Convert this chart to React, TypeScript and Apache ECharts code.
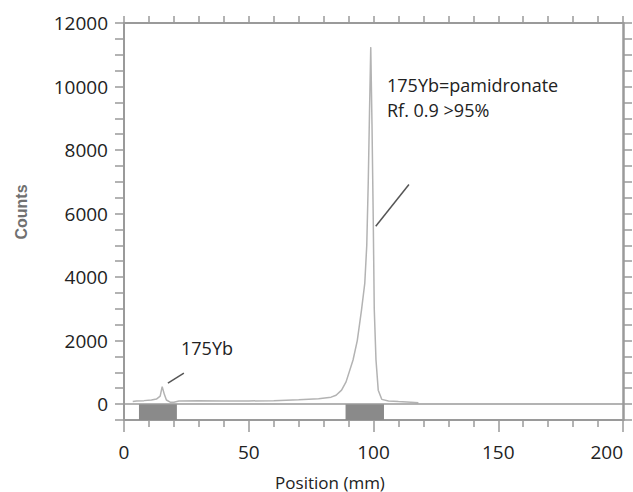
import React, { useEffect, useRef } from "react";
import * as echarts from "echarts";

// Chromatogram trace: [position (mm), counts]
const positions = [3.5, 5, 8, 11, 13, 14.5, 15.3, 16.2, 17, 18.5, 20, 22, 30, 40, 50, 60, 70, 78, 83, 85, 87.2, 89, 91.8, 93.5, 95.2, 96.5, 97.3, 97.9, 98.4, 98.9, 99.4, 99.9, 100.3, 101, 101.9, 103.3, 106, 110, 115, 118];
const counts = [80, 100, 110, 130, 160, 250, 550, 300, 130, 60, 60, 100, 110, 100, 100, 110, 140, 170, 220, 280, 440, 700, 1390, 2000, 2970, 3800, 5000, 7000, 9200, 11240, 8800, 5800, 3000, 1390, 440, 150, 100, 80, 60, 40];

// Shaded origin / front bands on the strip below zero [from, to] (mm)
const bands = [
  [6, 21.2],
  [88.8, 104.2],
];

// Leader lines [[x1, y1], [x2, y2]] in data units
const leaders = [
  [[100.9, 5600], [114.2, 6915]],
  [[17.6, 663], [24.0, 979]],
];

const xTicks = [0, 50, 100, 150, 200];
const yLabelStep = 2000;

export default function App() {
  const ref = useRef<HTMLDivElement>(null);
  useEffect(() => {
    if (!ref.current) return;
    const chart = echarts.init(ref.current, null, { renderer: "svg" });
    const axisColor = "#9a9a9a";
    const font = "'Open Sans', 'Noto Sans', sans-serif";
    const data = positions.map((p, i) => [p, counts[i]]);
    chart.setOption({
      animation: false,
      backgroundColor: "#ffffff",
      grid: { left: 124, right: 10, top: 23, bottom: 72, containLabel: false, outerBoundsMode: "none" },
      xAxis: [
        {
          type: "value",
          position: "bottom",
          min: xTicks[0],
          max: xTicks[xTicks.length - 1],
          interval: 50,
          axisLine: { show: true, onZero: false, lineStyle: { color: axisColor, width: 2 } },
          axisTick: { show: true, length: 12, lineStyle: { color: axisColor, width: 1.5 } },
          minorTick: { show: true, splitNumber: 5, length: 7, lineStyle: { color: axisColor, width: 1.5 } },
          splitLine: { show: false },
          axisLabel: { color: "#222", fontSize: 19, fontFamily: font, margin: 22, alignMaxLabel: "right" },
        },
        {
          type: "value",
          position: "top",
          min: 0,
          max: 200,
          interval: 10,
          axisLine: { show: true, onZero: false, lineStyle: { color: axisColor, width: 2 } },
          axisTick: { show: true, length: 7, lineStyle: { color: axisColor, width: 1.5 } },
          splitLine: { show: false },
          axisLabel: { show: false },
        },
      ],
      yAxis: [
        {
          type: "value",
          position: "left",
          min: -500,
          max: 12000,
          interval: 500,
          axisLine: { show: true, onZero: false, lineStyle: { color: axisColor, width: 2 } },
          axisTick: { show: true, length: 9, lineStyle: { color: axisColor, width: 1.5 } },
          splitLine: { show: false },
          axisLabel: {
            color: "#222",
            fontSize: 19,
            fontFamily: font,
            margin: 16,
            formatter: (v: number) => (v >= 0 && v % yLabelStep === 0 ? String(v) : ""),
          },
        },
        {
          type: "value",
          position: "right",
          min: -500,
          max: 12000,
          interval: 500,
          axisLine: { show: true, onZero: false, lineStyle: { color: axisColor, width: 2.5 } },
          axisTick: { show: true, length: 9, lineStyle: { color: axisColor, width: 1.5 } },
          splitLine: { show: false },
          axisLabel: { show: false },
        },
      ],
      series: [
        {
          type: "line",
          xAxisIndex: 0,
          yAxisIndex: 0,
          data,
          showSymbol: false,
          smooth: false,
          lineStyle: { color: "#b3b3b3", width: 1.5 },
          markLine: {
            silent: true,
            symbol: ["none", "none"],
            label: { show: false },
            data: [
              [
                { coord: [0, 0], lineStyle: { color: axisColor, width: 1.5, type: "solid" } },
                { coord: [200, 0] },
              ],
              ...leaders.map((l) => [
                { coord: l[0], lineStyle: { color: "#555", width: 1.5, type: "solid" } },
                { coord: l[1] },
              ]),
            ],
          },
          markArea: {
            silent: true,
            itemStyle: { color: "#8a8a8a" },
            data: bands.map((b) => [{ coord: [b[0], 0] }, { coord: [b[1], -500] }]),
          },
        },
      ],
      graphic: [
        {
          type: "text",
          x: 387,
          y: 85,
          style: { text: "175Yb=pamidronate", fontSize: 18, fontFamily: font, fill: "#222", verticalAlign: "middle" },
        },
        {
          type: "text",
          x: 387,
          y: 110,
          style: { text: "Rf. 0.9 >95%", fontSize: 18, fontFamily: font, fill: "#222", verticalAlign: "middle" },
        },
        {
          type: "text",
          x: 181,
          y: 348,
          style: { text: "175Yb", fontSize: 18, fontFamily: font, fill: "#222", verticalAlign: "middle" },
        },
        {
          type: "text",
          x: 21,
          y: 212,
          rotation: Math.PI / 2,
          style: {
            text: "Counts",
            fontSize: 16,
            fontWeight: "bold",
            fontFamily: "'Liberation Sans', Arial, sans-serif",
            fill: "#707070",
            align: "center",
            verticalAlign: "middle",
          },
        },
        {
          type: "text",
          x: 330,
          y: 482,
          style: {
            text: "Position (mm)",
            fontSize: 17,
            fontFamily: font,
            fill: "#222",
            align: "center",
            verticalAlign: "middle",
          },
        },
      ],
    });
    return () => chart.dispose();
  }, []);
  return <div ref={ref} style={{ position: "fixed", left: 0, top: 0, width: 633, height: 492 }} />;
}
